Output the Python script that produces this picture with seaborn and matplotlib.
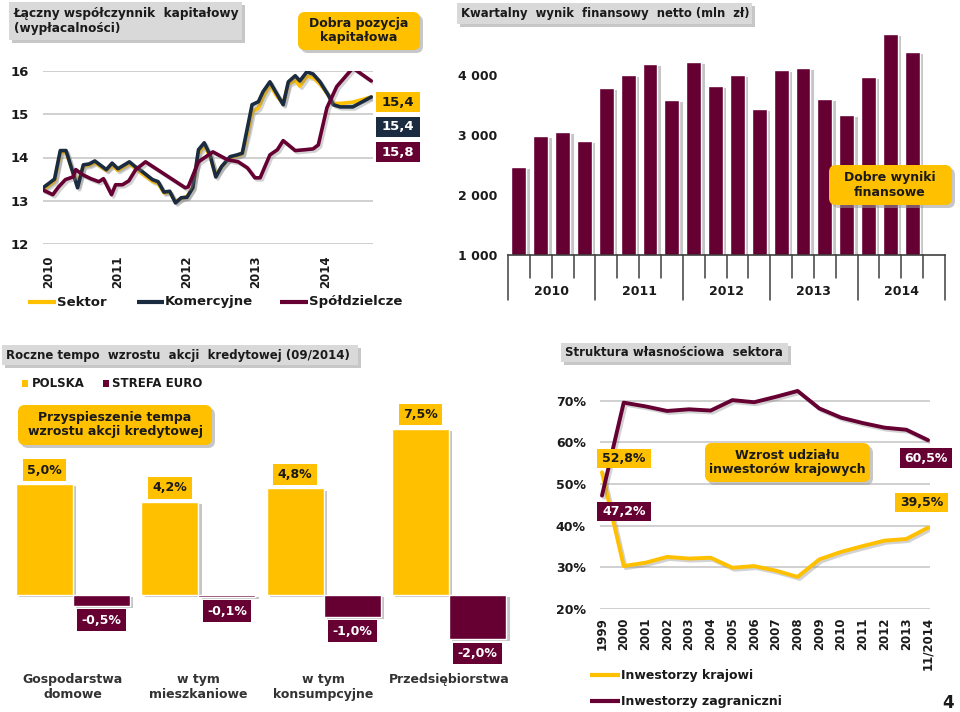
import numpy as np
import pandas as pd
import matplotlib
matplotlib.use("Agg")
import matplotlib.pyplot as plt
import matplotlib.patheffects as pe
from matplotlib.patches import FancyBboxPatch
from matplotlib.lines import Line2D
from matplotlib.transforms import Affine2D, blended_transform_factory
import seaborn as sns

# ------------------------------------------------------------------ data
# Panel 1: total capital ratio (x = months since Jan 2010)
sektor_m = [-1, 1, 2, 3, 5, 6, 7, 8, 10, 11, 12, 14, 15, 16, 18, 19, 20, 21, 22, 23, 24, 25,
            26, 27, 28, 29, 30, 31.5, 32.7, 33.6, 34.5, 35.3, 36.4, 37.2, 38.4, 39.7, 40.7,
            41.6, 42.8, 43.6, 44.8, 45.9, 47.1, 48.5, 49.4, 50.6, 52.8, 56]
sektor_v = [13.25, 13.45, 14.10, 14.12, 13.35, 13.80, 13.82, 13.88, 13.70, 13.82, 13.70, 13.86,
            13.75, 13.65, 13.45, 13.40, 13.18, 13.20, 12.98, 13.05, 13.10, 13.30, 14.10, 14.28,
            14.02, 13.60, 13.78, 14.00, 14.04, 14.08, 14.55, 15.05, 15.15, 15.40, 15.68, 15.40,
            15.25, 15.70, 15.78, 15.65, 15.88, 15.85, 15.70, 15.45, 15.25, 15.25, 15.28, 15.40]
kom_m = [-1, 1, 2, 3, 5, 6, 7, 8, 10, 11, 12, 14, 15, 16, 18, 19, 20, 21, 22, 23, 24, 25,
         26, 27, 28, 29, 30, 31.5, 32.7, 33.6, 34.5, 35.3, 36.4, 37.2, 38.4, 39.7, 40.7,
         41.6, 42.8, 43.6, 44.8, 45.9, 47.1, 48.5, 49.4, 50.6, 52.8, 56]
kom_v = [13.30, 13.50, 14.16, 14.16, 13.30, 13.83, 13.85, 13.92, 13.72, 13.87, 13.74, 13.90,
         13.79, 13.70, 13.49, 13.44, 13.20, 13.22, 12.95, 13.07, 13.08, 13.30, 14.18, 14.34,
         14.06, 13.55, 13.79, 14.02, 14.06, 14.10, 14.69, 15.22, 15.29, 15.52, 15.75, 15.45,
         15.22, 15.75, 15.89, 15.77, 15.98, 15.93, 15.75, 15.45, 15.22, 15.17, 15.17, 15.40]
spol_m = [-1, 0.7, 1.7, 2.9, 4.2, 4.7, 5.9, 7.3, 8.7, 9.5, 10.9, 11.6, 12.8, 13.9, 15.1, 16.8,
          23.7, 24.2, 26, 28.5, 31, 32.9, 34.5, 35.8, 36.7, 38.4, 39.7, 40.7, 42.8, 44.5,
          45.9, 46.8, 48.3, 50, 52.8, 56]
spol_v = [13.25, 13.14, 13.32, 13.49, 13.55, 13.72, 13.60, 13.51, 13.44, 13.51, 13.14, 13.37,
          13.37, 13.46, 13.72, 13.90, 13.30, 13.32, 13.90, 14.13, 13.95, 13.90, 13.76, 13.53,
          13.53, 14.06, 14.18, 14.39, 14.16, 14.18, 14.20, 14.29, 15.15, 15.64, 16.07, 15.77]
cap_year_pos = [0, 12, 24, 36, 48]
cap_years = ["2010", "2011", "2012", "2013", "2014"]
cap_final = ["15,4", "15,4", "15,8"]

# Panel 2: quarterly net profit (mln zł)
quarters = ["2010Q1", "2010Q2", "2010Q3", "2010Q4", "2011Q1", "2011Q2", "2011Q3", "2011Q4",
            "2012Q1", "2012Q2", "2012Q3", "2012Q4", "2013Q1", "2013Q2", "2013Q3", "2013Q4",
            "2014Q1", "2014Q2", "2014Q3"]
profit = [2470, 2980, 3050, 2900, 3790, 4000, 4180, 3580, 4220, 3820, 4000, 3430,
          4090, 4120, 3600, 3340, 3970, 4690, 4380]
profit_years = ["2010", "2011", "2012", "2013", "2014"]
profit_ticks = [1000, 2000, 3000, 4000]
profit_ticklabels = ["1 000", "2 000", "3 000", "4 000"]

# Panel 3: annual credit growth (09/2014)
credit_cats = ["Gospodarstwa\ndomowe", "w tym\nmieszkaniowe", "w tym\nkonsumpcyjne", "Przedsiębiorstwa"]
polska = [5.0, 4.2, 4.8, 7.5]
strefa = [-0.5, -0.1, -1.0, -2.0]

# Panel 4: ownership structure
own_years = ["1999", "2000", "2001", "2002", "2003", "2004", "2005", "2006", "2007", "2008",
             "2009", "2010", "2011", "2012", "2013", "11/2014"]
krajowi = [52.8, 30.3, 31.1, 32.5, 32.1, 32.3, 29.9, 30.3, 29.2, 27.7, 31.9, 33.7, 35.1, 36.4, 36.8, 39.5]
zagraniczni = [47.2, 69.5, 68.6, 67.5, 67.9, 67.6, 70.1, 69.6, 70.9, 72.3, 68.1, 65.9, 64.6, 63.5, 63.0, 60.5]

# ------------------------------------------------------------------ style
YEL = "#FFC000"
MAR = "#660033"
NAVY = "#1B2B40"
GRAYBOX = "#D9D9D9"
GRID = "#C8C8C8"
TXT = "#1A1A1A"

sns.set_style("white")
plt.rcParams["font.family"] = ["DejaVu Sans"]
plt.rcParams["font.weight"] = "bold"

W, H = 960, 712
fig = plt.figure(figsize=(W / 100, H / 100), dpi=100)
T = Affine2D().scale(1, -1).translate(0, H)  # pixel coords, origin top-left


def ax_at(x0, y0, x1, y1):
    return fig.add_axes([x0 / W, 1 - y1 / H, (x1 - x0) / W, (y1 - y0) / H])


def box(x0, y0, x1, y1, fc, rounded=False, shadow=True, z=5):
    style = "round,pad=0,rounding_size=7" if rounded else "square,pad=0"
    if shadow:
        s = FancyBboxPatch((x0 + 3, y0 + 3), x1 - x0, y1 - y0, boxstyle=style,
                           transform=T, fc="#9A9A9A", ec="none", alpha=0.55, zorder=z)
        fig.add_artist(s)
    p = FancyBboxPatch((x0, y0), x1 - x0, y1 - y0, boxstyle=style,
                       transform=T, fc=fc, ec="none", zorder=z + 0.1)
    fig.add_artist(p)


def ftext(x, y, s, size=9, color=TXT, ha="left", va="center", z=6, **kw):
    fig.text(x, y, s, transform=T, fontsize=size, color=color, ha=ha, va=va,
             fontweight="bold", zorder=z, **kw)


def fline(x0, x1, y, color, lw=3):
    fig.add_artist(Line2D([x0, x1], [y, y], transform=T, color=color, lw=lw,
                          solid_capstyle="butt", zorder=6))


line_shadow = [pe.SimpleLineShadow(offset=(1.5, -1.5), shadow_color="#808080", alpha=0.35), pe.Normal()]
bar_shadow = [pe.SimplePatchShadow(offset=(2.5, -1.5), shadow_rgbFace="#808080", alpha=0.45), pe.Normal()]

# ------------------------------------------------------------------ panel 1
ax1 = ax_at(43, 71, 373, 244)
sns.lineplot(x=sektor_m, y=sektor_v, ax=ax1, color=YEL, lw=2.6)
sns.lineplot(x=kom_m, y=kom_v, ax=ax1, color=NAVY, lw=2.6)
sns.lineplot(x=spol_m, y=spol_v, ax=ax1, color=MAR, lw=2.6)
for ln in ax1.lines:
    ln.set_path_effects(line_shadow)
ax1.set_xlim(-1, 56.3)
ax1.set_ylim(12, 16)
ax1.set_yticks([12, 13, 14, 15, 16])
ax1.set_yticklabels(["12", "13", "14", "15", "16"], fontsize=9.5, color=TXT, fontweight="bold")
ax1.set_xticks(cap_year_pos)
ax1.set_xticklabels(cap_years, rotation=90, fontsize=8.5, color=TXT, fontweight="bold")
ax1.tick_params(length=0, axis="y", pad=10)
ax1.tick_params(length=0, axis="x", pad=8)
ax1.grid(axis="y", color=GRID, lw=1.2)
ax1.grid(axis="x", visible=False)
for s in ax1.spines.values():
    s.set_visible(False)
ax1.set_facecolor("none")

box(9, 2, 242, 40, GRAYBOX)
ftext(14, 21, "Łączny współczynnik  kapitałowy\n(wypłacalności)", size=8.7, linespacing=1.15)
box(298, 12, 420, 50, YEL, rounded=True)
ftext(359, 31, "Dobra pozycja\nkapitałowa", size=9, ha="center", linespacing=1.1)
for (yc, fc, tc, s) in [(102, YEL, TXT, cap_final[0]), (127, NAVY, "white", cap_final[1]),
                        (152, MAR, "white", cap_final[2])]:
    box(376, yc - 10, 420, yc + 10, fc, shadow=False)
    ftext(398, yc, s, size=9.5, color=tc, ha="center")
fline(28, 56, 302, YEL)
ftext(57, 302, "Sektor", size=9.5)
fline(137, 164, 302, NAVY)
ftext(165, 302, "Komercyjne", size=9.5)
fline(280, 308, 302, MAR)
ftext(309, 302, "Spółdzielcze", size=9.5)

# ------------------------------------------------------------------ panel 2
ax2 = ax_at(508, 27, 945, 255)
df2 = pd.DataFrame({"q": quarters, "v": profit})
sns.barplot(data=df2, x="q", y="v", color=MAR, saturation=1, width=0.68, ax=ax2)
for p in ax2.patches:
    p.set_path_effects(bar_shadow)
ax2.set_xlim(-0.5, 19.5)
ax2.set_ylim(1000, 4800)
ax2.set_yticks(profit_ticks)
ax2.set_yticklabels(profit_ticklabels, fontsize=9, color=TXT, fontweight="bold")
ax2.set_xticks([])
ax2.set_xlabel("")
ax2.set_ylabel("")
ax2.tick_params(length=0, axis="y", pad=8)
for k, s in ax2.spines.items():
    s.set_visible(k == "bottom")
ax2.spines["bottom"].set_color("#404040")
ax2.spines["bottom"].set_linewidth(1.2)
bt = blended_transform_factory(ax2.transData, ax2.transAxes)
for i in range(21):
    low = -0.197 if i % 4 == 0 else -0.101
    ax2.plot([i - 0.5, i - 0.5], [0, low], transform=bt, color="#404040", lw=1.1, clip_on=False)
for j, y in enumerate(profit_years):
    ax2.text(4 * j + 1.5, -0.162, y, transform=bt, ha="center", va="center",
             fontsize=9, fontweight="bold", color=TXT)
ax2.set_facecolor("none")

box(457, 3, 752, 24, GRAYBOX)
ftext(461, 13.5, "Kwartalny  wynik  finansowy  netto (mln  zł)", size=8.4)
box(829, 165, 952, 205, YEL, rounded=True)
ftext(890, 185, "Dobre wyniki\nfinansowe", size=9, ha="center", linespacing=1.1)

# ------------------------------------------------------------------ panel 3
ax3 = ax_at(10.3, 417.4, 511.7, 650.5)
df3 = pd.DataFrame({
    "cat": credit_cats * 2,
    "region": ["POLSKA"] * len(credit_cats) + ["STREFA EURO"] * len(credit_cats),
    "val": polska + strefa,
})
sns.barplot(data=df3, x="cat", y="val", hue="region", palette=[YEL, MAR], saturation=1,
            width=0.91, legend=False, ax=ax3)
for p in ax3.patches:
    p.set_path_effects(bar_shadow)
ax3.set_ylim(-2.5, 8.0)
ax3.set_xlim(-0.5, 3.5)
ax3.set_yticks([])
ax3.set_xlabel("")
ax3.set_ylabel("")
ax3.tick_params(length=0, axis="x", pad=16)
ax3.set_xticks(range(len(credit_cats)))
ax3.set_xticklabels(credit_cats, fontsize=9, color="#333333", fontweight="bold", linespacing=1.2)
for s in ax3.spines.values():
    s.set_visible(False)
ax3.set_facecolor("none")
bars = [p for p in ax3.patches if p.get_width() > 0]
vals = polska + strefa
for p, v in zip(bars, vals):
    xc = p.get_x() + p.get_width() / 2
    lab = f"{v:.1f}%".replace(".", ",")
    if v >= 0:
        ax3.annotate(lab, (xc, v), xytext=(0, 14), textcoords="offset pixels", ha="center",
                     va="center", fontsize=9, fontweight="bold", color=TXT,
                     bbox=dict(boxstyle="square,pad=0.35", fc=YEL, ec="none"))
    else:
        ax3.annotate(lab, (xc, v), xytext=(0, -14), textcoords="offset pixels", ha="center",
                     va="center", fontsize=9, fontweight="bold", color="white",
                     bbox=dict(boxstyle="square,pad=0.35", fc=MAR, ec="none"))

box(2, 345, 358, 365, GRAYBOX)
ftext(6, 355, "Roczne tempo  wzrostu  akcji  kredytowej (09/2014)", size=8.5)
fig.add_artist(FancyBboxPatch((22, 380), 6, 7, boxstyle="square,pad=0", transform=T,
                              fc=YEL, ec="none", zorder=6))
ftext(32, 383.5, "POLSKA", size=8.5)
fig.add_artist(FancyBboxPatch((103, 380), 6, 7, boxstyle="square,pad=0", transform=T,
                              fc=MAR, ec="none", zorder=6))
ftext(112, 383.5, "STREFA EURO", size=8.5)
box(18, 405, 212, 445, YEL, rounded=True)
ftext(115, 425, "Przyspieszenie tempa\nwzrostu akcji kredytowej", size=9, ha="center", linespacing=1.1)

# ------------------------------------------------------------------ panel 4
ax4 = ax_at(599.8, 379.7, 930.2, 609)
xs = np.arange(len(own_years))
sns.lineplot(x=xs, y=krajowi, ax=ax4, color=YEL, lw=2.8)
sns.lineplot(x=xs, y=zagraniczni, ax=ax4, color=MAR, lw=2.8)
for ln in ax4.lines:
    ln.set_path_effects(line_shadow)
ax4.set_xlim(-0.1, len(own_years) - 0.9)
ax4.set_ylim(20, 75)
ax4.set_yticks([20, 30, 40, 50, 60, 70])
ax4.set_yticklabels(["20%", "30%", "40%", "50%", "60%", "70%"], fontsize=9, color=TXT, fontweight="bold")
ax4.set_xticks(xs)
ax4.set_xticklabels(own_years, rotation=90, fontsize=8.5, color=TXT, fontweight="bold")
ax4.tick_params(length=0, axis="y", pad=10)
ax4.tick_params(length=0, axis="x", pad=6)
ax4.grid(axis="y", color=GRID, lw=1.2)
ax4.grid(axis="x", visible=False)
for s in ax4.spines.values():
    s.set_visible(False)
ax4.set_facecolor("none")

box(561, 343, 788, 362, GRAYBOX)
ftext(565, 352.5, "Struktura własnościowa  sektora", size=8.5)
box(597, 449, 651, 468, YEL, shadow=False)
ftext(624, 458.5, "52,8%", size=9, ha="center")
box(597, 502, 651, 521, MAR, shadow=False)
ftext(624, 511.5, "47,2%", size=9, ha="center", color="white")
box(900, 448, 952, 468, MAR, shadow=False)
ftext(926, 458, "60,5%", size=9, ha="center", color="white")
box(895, 493, 948, 512, YEL, shadow=False)
ftext(921.5, 502.5, "39,5%", size=9, ha="center")
box(705, 443, 870, 482, YEL, rounded=True)
ftext(787, 462.5, "Wzrost udziału\ninwestorów krajowych", size=9, ha="center", linespacing=1.1)

fline(590, 620, 675, YEL)
ftext(621, 675, "Inwestorzy krajowi", size=9)
fline(590, 620, 701, MAR)
ftext(621, 701, "Inwestorzy zagraniczni", size=9)
ftext(948, 703, "4", size=12, ha="center")

fig.savefig("out.png", dpi=100)
